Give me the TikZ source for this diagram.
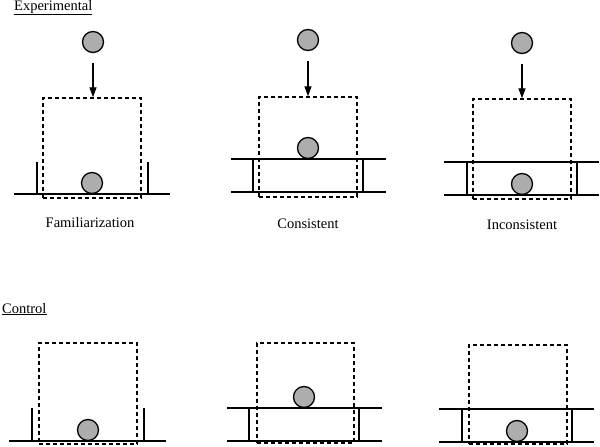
\documentclass[tikz,border=0pt]{standalone}
\usepackage{fontspec}
\setmainfont{Liberation Serif}
\usetikzlibrary{arrows.meta}
\begin{document}
\begin{tikzpicture}[x=1pt,y=-1pt,
  ball/.style={circle,draw=black,line width=1.3pt,fill=black!32,minimum size=21pt,inner sep=0pt},
  dbox/.style={draw=black,line width=1.4pt,dash pattern=on 4pt off 3pt,inner sep=0pt},
  floor/.style={draw=black,line width=1.2pt},
  drop/.style={draw=black,line width=1.3pt,-{Triangle[length=10pt,width=7pt]},shorten <=10pt},
  lbl/.style={font=\fontsize{14.5}{17}\selectfont,anchor=base,inner sep=0pt},
  head/.style={font=\fontsize{14.5}{17}\selectfont,anchor=base west,inner sep=0pt}]
\useasboundingbox (0,0) rectangle (600,447);

% headings
\node[head] (exp) at (14,10) {\underline{Experimental}};
\node[head] (ctl) at (2,313) {\underline{Control}};

% ===== Experimental: Familiarization
\node[dbox,minimum width=98pt,minimum height=100pt] (b1) at (92,148) {};
\draw[floor] (14,194) -- (170,194);
\draw[floor] (37,162) -- (37,194);
\draw[floor] (148,162) -- (148,194);
\node[ball] (t1) at (93,42) {};
\node[ball] (g1) at (92,183) {};
\draw[drop] (t1) -- (b1.north -| t1);
\node[lbl] (l1) at (90,227) {Familiarization};

% ===== Experimental: Consistent
\node[dbox,minimum width=98pt,minimum height=100pt] (b2) at (308,147) {};
\draw[floor] (231,159) -- (386,159);
\draw[floor] (231,192) -- (386,192);
\draw[floor] (253,159) -- (253,192);
\draw[floor] (363,159) -- (363,192);
\node[ball] (t2) at (308,40) {};
\node[ball] (g2) at (308,148) {};
\draw[drop] (t2) -- (b2.north -| t2);
\node[lbl] (l2) at (308,228) {Consistent};

% ===== Experimental: Inconsistent
\node[dbox,minimum width=98pt,minimum height=100pt] (b3) at (522,149) {};
\draw[floor] (444,162) -- (599,162);
\draw[floor] (444,195) -- (599,195);
\draw[floor] (467,162) -- (467,195);
\draw[floor] (577,162) -- (577,195);
\node[ball] (t3) at (522,43) {};
\node[ball] (g3) at (522,184) {};
\draw[drop] (t3) -- (b3.north -| t3);
\node[lbl] (l3) at (522,229) {Inconsistent};

% ===== Control: Familiarization
\node[dbox,minimum width=98pt,minimum height=101pt] (c1) at (88,393.5) {};
\draw[floor] (9,441) -- (166,441);
\draw[floor] (32,408) -- (32,441);
\draw[floor] (144,408) -- (144,441);
\node[ball] (h1) at (88,430) {};

% ===== Control: Consistent
\node[dbox,minimum width=97pt,minimum height=100pt] (c2) at (305.5,393) {};
\draw[floor] (227,408) -- (382,408);
\draw[floor] (227,441) -- (382,441);
\draw[floor] (249,408) -- (249,441);
\draw[floor] (359,408) -- (359,441);
\node[ball] (h2) at (304,397) {};

% ===== Control: Inconsistent
\node[dbox,minimum width=98pt,minimum height=99pt] (c3) at (518,394.5) {};
\draw[floor] (439,409) -- (594,409);
\draw[floor] (439,442) -- (594,442);
\draw[floor] (462,409) -- (462,442);
\draw[floor] (572,409) -- (572,442);
\node[ball] (h3) at (517,431) {};
\end{tikzpicture}
\end{document}
